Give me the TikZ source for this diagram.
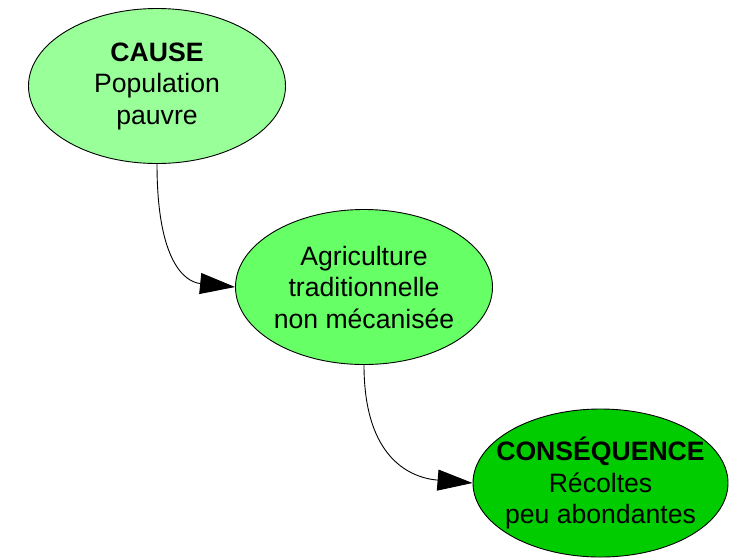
\documentclass[tikz,border=0pt]{standalone}
\usepackage{fontspec}
\setmainfont{Liberation Sans}
\usetikzlibrary{shapes.geometric,arrows.meta}
\definecolor{causegreen}{HTML}{99FF99}
\definecolor{midgreen}{HTML}{66FF66}
\definecolor{consgreen}{HTML}{00CC00}
\begin{document}
\begin{tikzpicture}[x=1pt,y=-1pt,
  bubble/.style={ellipse,draw=black,line width=0.9pt,inner sep=0pt,minimum width=257pt},
  label text/.style={align=center,inner sep=0pt,font=\fontsize{26.6}{31.5}\selectfont},
  link/.style={line width=0.9pt,-{Triangle[length=35pt,width=21pt]}}]
\useasboundingbox (0,0) rectangle (741,558);
\node[bubble,fill=causegreen,minimum height=155pt] (cause) at (157,86) {};
\node[label text] (causeT) at (cause) {\textbf{CAUSE}\\Population\\pauvre};
\node[bubble,fill=midgreen,minimum height=155pt] (agri) at (364,287) {};
\node[label text] (agriT) at (agri) {Agriculture\\traditionnelle\\non mécanisée};
\node[bubble,fill=consgreen,minimum height=148pt,minimum width=255pt] (cons) at (600.5,483) {};
\node[label text] (consT) at (cons) {\textbf{CONSÉQUENCE}\\Récoltes\\peu abondantes};
\draw[link] (cause.south) .. controls (157,262) and (185,282) .. (agri.west);
\draw[link] (agri.south) .. controls (364,460) and (412,478) .. (cons.west);
\end{tikzpicture}
\end{document}
